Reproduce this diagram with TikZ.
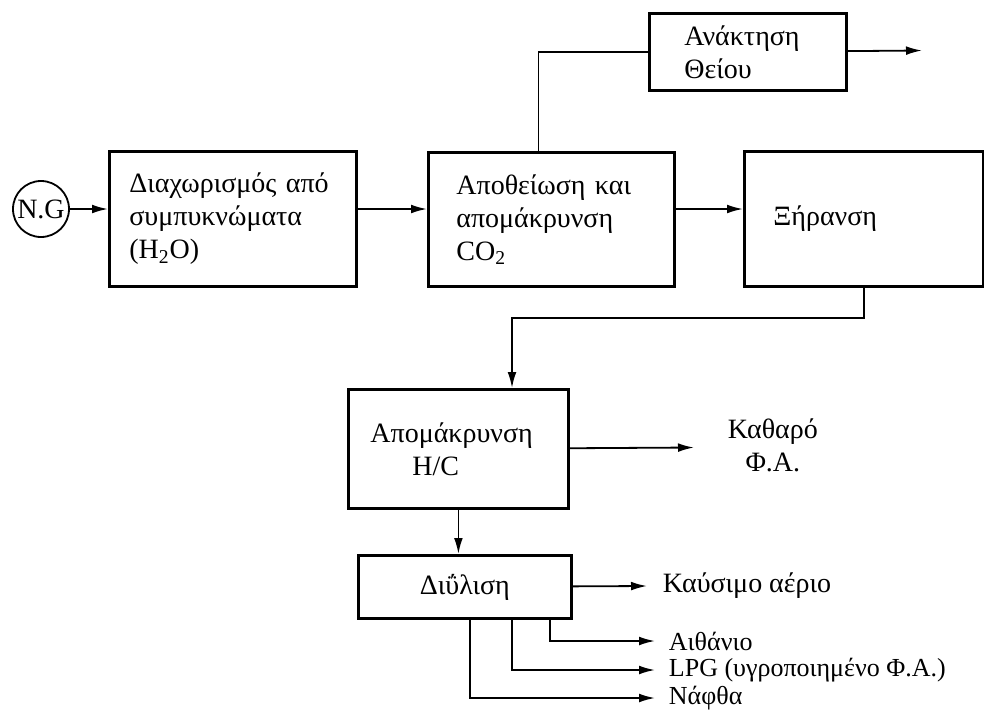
\documentclass[tikz,border=0pt]{standalone}
\usepackage{fontspec}
\setmainfont{Liberation Serif}
\usetikzlibrary{arrows.meta}

\tikzset{
    box/.style={draw, rectangle, line width=1.4pt, anchor=north west, align=left, inner ysep=0pt},
    outtext/.style={anchor=west, inner sep=0pt, align=center},
    small/.style={font=\fontsize{13}{15}\selectfont}
}

\begin{document}
\begin{tikzpicture}[x=0.5pt, y=-0.5pt, >={Latex[length=8pt,width=4.4pt]}, line width=0.9pt,
    font=\fontsize{14}{16.5}\selectfont]
    \useasboundingbox (0,0) rectangle (984,713);

    % Nodes {ng, sep, desulf, dry, sulfur, hcrem, dist}
    \node [circle, draw, minimum size=28pt, inner sep=0pt]  (ng)      at (41,209)  {N.G};
    \node [box, minimum width=123.5pt, minimum height=67.5pt, text width=103.5pt, inner xsep=10pt]
                                                            (sep)     at (108,150) {Διαχωρισμός από\\συμπυκνώματα\\(H\textsubscript{2}O)};
    \node [box, minimum width=123pt, minimum height=67pt, text width=95pt, inner xsep=14pt]
                                                            (desulf)  at (427,151) {Αποθείωση και\\απομάκρυνση\\CO\textsubscript{2}};
    \node [box, minimum width=119.5pt, minimum height=67.5pt, text width=90.5pt, inner xsep=14.5pt]
                                                            (dry)     at (743,150) {Ξήρανση};
    \node [box, minimum width=98.5pt, minimum height=38.5pt, text width=63.5pt, inner xsep=17.5pt]
                                                            (sulfur)  at (648,12)  {Ανάκτηση\\Θείου};
    \node [box, minimum width=110pt, minimum height=59.5pt, text width=88pt, inner xsep=11pt]
                                                            (hcrem)   at (347,388) {Απομάκρυνση\\\hspace*{21pt}H/C};
    \node [box, align=center, minimum width=106.5pt, minimum height=31.5pt, text width=106.5pt, inner xsep=0pt]
                                                            (dist)    at (357,554) {Διΰλιση};

    % Outputs
    \node [outtext] (clean)   at (727,445) {Καθαρό\\Φ.Α.};
    \node [outtext] (fuel)    at (662,585.5) {Καύσιμο αέριο};
    \node [outtext, small] (ethane)  at (668,641) {Αιθάνιο};
    \node [outtext, small] (lpg)     at (668,670) {LPG (υγροποιημένο Φ.Α.)};
    \node [outtext, small] (naphtha) at (668,698) {Νάφθα};

    \coordinate (sout)     at (922,50.5);
    \coordinate (cleanend) at (694,447.5);
    \coordinate (turn)     at (512,318);

    % Paths
    \path [->]  (ng) edge (ng -| sep.west);
    \path [->]  (sep.east |- ng) edge (desulf.west |- ng);
    \path [->]  (desulf.east |- ng) edge (dry.west |- ng);
    \draw       ([xshift=-6.5pt]desulf.north) |- (sulfur.west);
    \path [->]  (sulfur) edge (sout);
    \draw [->]  (dry.south) |- (turn) -- (turn |- hcrem.north);
    \path [->]  (hcrem) edge (cleanend);
    \path [->]  (hcrem.south) edge (hcrem.south |- dist.north);
    \path [->, shorten >=7.5pt] (dist) edge (fuel);
    \draw [->, shorten >=6.5pt] ([xshift=96.5pt]dist.south west) |- (ethane);
    \draw [->, shorten >=6.5pt] ([xshift=77.5pt]dist.south west) |- (lpg);
    \draw [->, shorten >=6.5pt] ([xshift=56.5pt]dist.south west) |- (naphtha);

\end{tikzpicture}
\end{document}
